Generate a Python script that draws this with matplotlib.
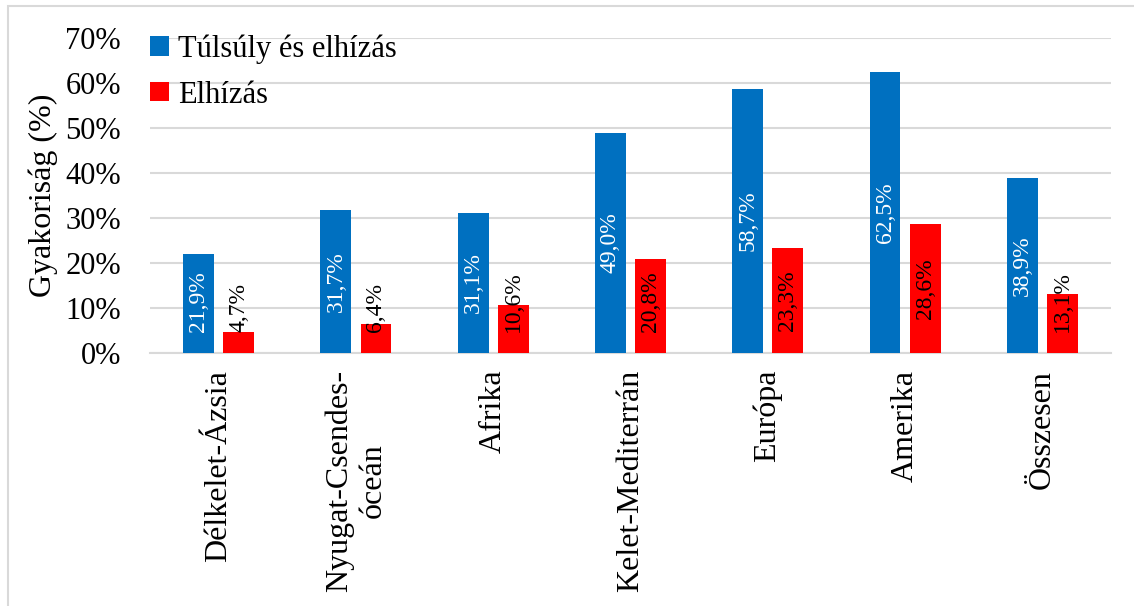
import matplotlib.pyplot as plt
import numpy as np
from matplotlib.patches import Rectangle

plt.rcParams['font.family'] = ['Liberation Serif', 'DejaVu Serif']

regions = ['Délkelet-Ázsia', 'Nyugat-Csendes-\nóceán', 'Afrika', 'Kelet-Mediterrán',
           'Európa', 'Amerika', 'Összesen']
tulsuly = [21.9, 31.7, 31.1, 49.0, 58.7, 62.5, 38.9]
elhizas = [4.7, 6.4, 10.6, 20.8, 23.3, 28.6, 13.1]
series_names = ['Túlsúly és elhízás', 'Elhízás']
blue = '#0070C0'
red = '#FF0000'
grid_col = '#D9D9D9'

fig = plt.figure(figsize=(11.34, 6.06), dpi=100)
ax = fig.add_axes([150 / 1134, 1 - 353 / 606, (1111 - 150) / 1134, (353 - 38) / 606])

# outer chart border (top and left only visible)
fig.patches.append(Rectangle((7.5 / 1134, -0.01), 1.02, 1 - 5.5 / 606 + 0.01,
                             transform=fig.transFigure, fill=False,
                             edgecolor=grid_col, linewidth=1.5))

x = np.arange(len(regions))
w = 0.225
off = 0.146
ax.bar(x - off, tulsuly, w, color=blue, label=series_names[0], zorder=3)
ax.bar(x + off, elhizas, w, color=red, label=series_names[1], zorder=3)

ax.set_xlim(-0.5, len(regions) - 0.5)
ax.set_ylim(0, 70)

# labels centred in the bar, but never lower than a fixed distance above the base
px_per_unit = (353 - 38) / 70


def put_label(xpos, v, col):
    txt = f'{v:.1f}%'.replace('.', ',')
    if v / 2 * px_per_unit >= 50:
        ax.text(xpos, v / 2, txt, rotation=90, ha='center', va='center',
                color=col, fontsize=17, zorder=4)
    else:
        ax.annotate(txt, (xpos, 0), xytext=(0, 15), textcoords='offset points',
                    rotation=90, ha='center', va='bottom', color=col,
                    fontsize=17, zorder=4)


for xi, v in zip(x, tulsuly):
    put_label(xi - off, v, 'white')
for xi, v in zip(x, elhizas):
    put_label(xi + off, v, 'black')

ax.set_yticks(np.arange(0, 71, 10))
ax.set_yticklabels([f'{t}%' for t in range(0, 71, 10)], fontsize=22)
ax.set_xticks(x)
ax.set_xticklabels(regions, rotation=90, fontsize=23, multialignment='center')
ax.tick_params(length=0, pad=12)
ax.tick_params(axis='y', pad=21)
ax.yaxis.grid(True, color=grid_col, linewidth=1.5, zorder=0)
ax.set_axisbelow(True)
for s in ['top', 'right', 'left']:
    ax.spines[s].set_visible(False)
ax.spines['bottom'].set_color(grid_col)
ax.spines['bottom'].set_linewidth(1.5)

ax.set_ylabel('Gyakoriság (%)', fontsize=23, labelpad=5)

ax.legend(loc='upper left', bbox_to_anchor=(138 / 1134, 1 - 22 / 606),
          bbox_transform=fig.transFigure, frameon=False, fontsize=22,
          handlelength=0.6, handleheight=0.6, handletextpad=0.3,
          labelspacing=0.55, borderaxespad=0)

fig.savefig('out.png', dpi=100)
